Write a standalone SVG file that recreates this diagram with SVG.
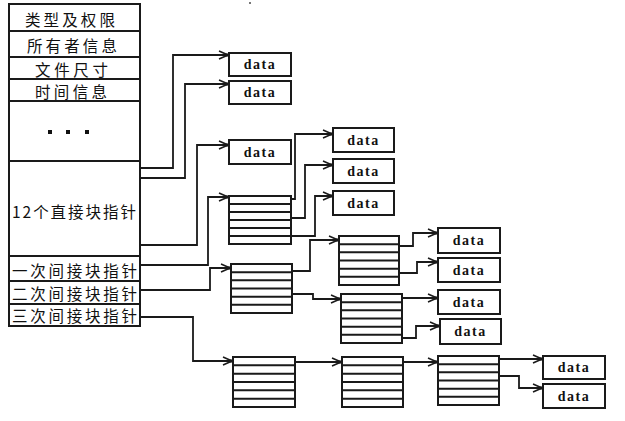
<svg xmlns="http://www.w3.org/2000/svg" width="625" height="421" viewBox="0 0 625 421">
<style>
.bx{fill:#fff;stroke:#1a1a1a;stroke-width:2}
.ln{stroke:#1a1a1a;stroke-width:2;fill:none}
.cn{stroke:#1a1a1a;stroke-width:1.8;fill:none;marker-end:url(#ah)}
.zh{font-family:"Noto Sans CJK SC","Noto Sans CJK JP",sans-serif;font-size:15.5px;fill:#111;dominant-baseline:central}
.dt{font-family:"Liberation Serif","DejaVu Serif",serif;font-size:14px;font-weight:bold;letter-spacing:1.5px;fill:#111;text-anchor:middle;dominant-baseline:central}
</style>
<defs>
<marker id="ah" markerUnits="userSpaceOnUse" markerWidth="12" markerHeight="12" viewBox="0 0 12 12" refX="11" refY="6" orient="auto">
<path d="M2,2 L11,6 L2,10" fill="none" stroke="#1a1a1a" stroke-width="1.5"/>
<rect x="9" y="4.5" width="3" height="3" fill="#1a1a1a"/>
</marker>
</defs>
<rect width="625" height="421" fill="#fff"/>
<rect x="249" y="2" width="2" height="2" fill="#777"/>

<g id="inode">
<rect class="bx" x="9" y="4" width="131" height="322"/>
<path class="ln" d="M9,31H140M9,57H140M9,79H140M9,101H140M9,161H140M9,256H140M9,281H140M9,304H140"/>
<text class="zh" x="25" y="19" textLength="90" lengthAdjust="spacing">类型及权限</text>
<text class="zh" x="27" y="45" textLength="90" lengthAdjust="spacing">所有者信息</text>
<text class="zh" x="35" y="69" textLength="73" lengthAdjust="spacing">文件尺寸</text>
<text class="zh" x="35" y="91" textLength="72" lengthAdjust="spacing">时间信息</text>
<rect x="48" y="130" width="4" height="4" fill="#111"/>
<rect x="66" y="130" width="4" height="4" fill="#111"/>
<rect x="85" y="130" width="4" height="4" fill="#111"/>
<text class="zh" x="12" y="211" textLength="124" lengthAdjust="spacing">12个直接块指针</text>
<text class="zh" x="12" y="270" textLength="125" lengthAdjust="spacing">一次间接块指针</text>
<text class="zh" x="12" y="293" textLength="125" lengthAdjust="spacing">二次间接块指针</text>
<text class="zh" x="12" y="315" textLength="125" lengthAdjust="spacing">三次间接块指针</text>
</g>

<g id="data1"><rect class="bx" x="229" y="53" width="62" height="23"/><text class="dt" x="260" y="64.5">data</text></g>
<g id="data2"><rect class="bx" x="229" y="81" width="62" height="23"/><text class="dt" x="260" y="92.5">data</text></g>
<g id="data3"><rect class="bx" x="229" y="140" width="62" height="24"/><text class="dt" x="260" y="152">data</text></g>
<g id="data4"><rect class="bx" x="333" y="128" width="61" height="24"/><text class="dt" x="363.5" y="140">data</text></g>
<g id="data5"><rect class="bx" x="333" y="159" width="61" height="24"/><text class="dt" x="363.5" y="171">data</text></g>
<g id="data6"><rect class="bx" x="333" y="191" width="61" height="24"/><text class="dt" x="363.5" y="203">data</text></g>
<g id="data7"><rect class="bx" x="438" y="228" width="62" height="25"/><text class="dt" x="469" y="240.5">data</text></g>
<g id="data8"><rect class="bx" x="438" y="258" width="62" height="24"/><text class="dt" x="469" y="270">data</text></g>
<g id="data9"><rect class="bx" x="438" y="290" width="62" height="24"/><text class="dt" x="469" y="302">data</text></g>
<g id="data10"><rect class="bx" x="440" y="319" width="61" height="25"/><text class="dt" x="470.5" y="331.5">data</text></g>
<g id="data11"><rect class="bx" x="543" y="356" width="62" height="23"/><text class="dt" x="574" y="367.5">data</text></g>
<g id="data12"><rect class="bx" x="543" y="384" width="62" height="24"/><text class="dt" x="574" y="396">data</text></g>

<g id="idx1"><rect class="bx" x="229" y="196" width="62" height="48"/><path class="ln" d="M229,204H291M229,212H291M229,220H291M229,228H291M229,236H291"/></g>
<g id="idx2"><rect class="bx" x="231" y="264" width="61" height="49"/><path class="ln" d="M231,272.2H292M231,280.3H292M231,288.5H292M231,296.7H292M231,304.8H292"/></g>
<g id="idxA"><rect class="bx" x="339" y="236" width="60" height="49"/><path class="ln" d="M339,244.2H399M339,252.3H399M339,260.5H399M339,268.7H399M339,276.8H399"/></g>
<g id="idxB"><rect class="bx" x="341" y="294" width="61" height="49"/><path class="ln" d="M341,302.2H402M341,310.3H402M341,318.5H402M341,326.7H402M341,334.8H402"/></g>
<g id="idxC"><rect class="bx" x="233" y="357" width="62" height="50"/><path class="ln" d="M233,365.3H295M233,373.7H295M233,382H295M233,390.3H295M233,398.7H295"/></g>
<g id="idxD"><rect class="bx" x="342" y="357" width="61" height="50"/><path class="ln" d="M342,365.3H403M342,373.7H403M342,382H403M342,390.3H403M342,398.7H403"/></g>
<g id="idxE"><rect class="bx" x="438" y="356" width="61" height="49"/><path class="ln" d="M438,364.2H499M438,372.3H499M438,380.5H499M438,388.7H499M438,396.8H499"/></g>

<g id="connectors">
<polyline class="cn" points="140,168 173,168 173,55 228,55"/>
<polyline class="cn" points="140,178 185,178 185,84 228,84"/>
<polyline class="cn" points="140,245 197,245 197,145 228,145"/>
<polyline class="cn" points="140,265 208,265 208,197 228,197"/>
<polyline class="cn" points="140,290 210,290 210,268 230,268"/>
<polyline class="cn" points="140,317 193,317 193,361 232,361"/>
<polyline class="cn" points="291,199 295,199 295,134 332,134"/>
<polyline class="cn" points="291,218 305,218 305,165 332,165"/>
<polyline class="cn" points="291,236 315,236 315,196 332,196"/>
<polyline class="cn" points="292,271 310,271 310,240 338,240"/>
<polyline class="cn" points="292,294 313,294 313,299 340,299"/>
<polyline class="cn" points="399,246 413,246 413,233 437,233"/>
<polyline class="cn" points="399,273 417,273 417,262 437,262"/>
<polyline class="cn" points="402,298 437,298"/>
<polyline class="cn" points="402,338 416,338 416,326 439,326"/>
<polyline class="cn" points="295,362 341,362"/>
<polyline class="cn" points="403,362 437,362"/>
<polyline class="cn" points="499,359 542,359"/>
<polyline class="cn" points="499,376 519,376 519,388 542,388"/>
</g>
</svg>
